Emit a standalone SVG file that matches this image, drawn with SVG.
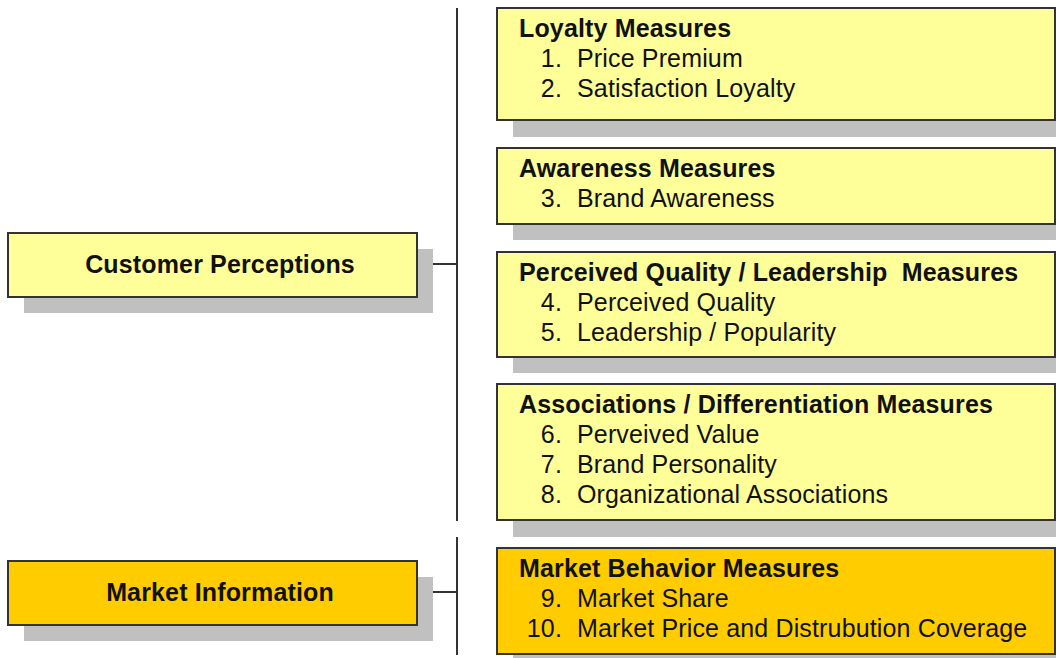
<svg xmlns="http://www.w3.org/2000/svg" width="1056" height="658" viewBox="0 0 1056 658">
  <style>
    .shadow { fill: #c0c0c0; }
    .box { stroke: #333333; stroke-width: 2; }
    .light { fill: #ffff99; }
    .gold { fill: #ffcc00; }
    .wire { stroke: #333333; stroke-width: 2; fill: none; }
    text { font-family: "Liberation Sans", Arial, sans-serif; font-size: 25px; fill: #111111; letter-spacing: 0.15px; }
    .title { font-weight: bold; }
    .head { font-weight: bold; text-anchor: middle; }
    .num { text-anchor: end; }
  </style>

  <rect width="1056" height="658" fill="#ffffff"/>

  <!-- connectors -->
  <g id="connectors">
    <line class="wire" x1="457" y1="8" x2="457" y2="521"/>
    <line class="wire" x1="457" y1="537" x2="457" y2="655"/>
    <line class="wire" x1="417" y1="264" x2="457" y2="264"/>
    <line class="wire" x1="417" y1="592" x2="457" y2="592"/>
  </g>

  <!-- left-hand categories -->
  <g id="customer-perceptions">
    <rect class="shadow" x="24" y="249" width="409" height="64"/>
    <rect class="box light" x="8" y="233" width="409" height="64"/>
    <text class="head" x="220" y="273">Customer Perceptions</text>
  </g>

  <g id="market-information">
    <rect class="shadow" x="24" y="577" width="409" height="64"/>
    <rect class="box gold" x="8" y="561" width="409" height="64"/>
    <text class="head" x="220" y="601">Market Information</text>
  </g>

  <!-- right-hand measure groups -->
  <g id="loyalty-measures">
    <rect class="shadow" x="513" y="24" width="560" height="113"/>
    <rect class="box light" x="497" y="8" width="558" height="112"/>
    <text class="title" x="519" y="37">Loyalty Measures</text>
    <text class="num" x="562" y="67">1.</text><text x="577" y="67">Price Premium</text>
    <text class="num" x="562" y="97">2.</text><text x="577" y="97">Satisfaction Loyalty</text>
  </g>

  <g id="awareness-measures">
    <rect class="shadow" x="513" y="164" width="560" height="76"/>
    <rect class="box light" x="497" y="148" width="558" height="76"/>
    <text class="title" x="519" y="177">Awareness Measures</text>
    <text class="num" x="562" y="207">3.</text><text x="577" y="207">Brand Awareness</text>
  </g>

  <g id="quality-leadership-measures">
    <rect class="shadow" x="513" y="268" width="560" height="105"/>
    <rect class="box light" x="497" y="252" width="558" height="105"/>
    <text class="title" x="519" y="281" xml:space="preserve">Perceived Quality / Leadership  Measures</text>
    <text class="num" x="562" y="311">4.</text><text x="577" y="311">Perceived Quality</text>
    <text class="num" x="562" y="341">5.</text><text x="577" y="341">Leadership / Popularity</text>
  </g>

  <g id="association-measures">
    <rect class="shadow" x="513" y="400" width="560" height="137"/>
    <rect class="box light" x="497" y="384" width="558" height="136"/>
    <text class="title" x="519" y="413">Associations / Differentiation Measures</text>
    <text class="num" x="562" y="443">6.</text><text x="577" y="443">Perveived Value</text>
    <text class="num" x="562" y="473">7.</text><text x="577" y="473">Brand Personality</text>
    <text class="num" x="562" y="503">8.</text><text x="577" y="503">Organizational Associations</text>
  </g>

  <g id="market-behavior-measures">
    <rect class="shadow" x="513" y="564" width="560" height="106"/>
    <rect class="box gold" x="497" y="548" width="558" height="106"/>
    <text class="title" x="519" y="577">Market Behavior Measures</text>
    <text class="num" x="562" y="607">9.</text><text x="577" y="607">Market Share</text>
    <text class="num" x="562" y="637">10.</text><text x="577" y="637">Market Price and Distrubution Coverage</text>
  </g>
</svg>
